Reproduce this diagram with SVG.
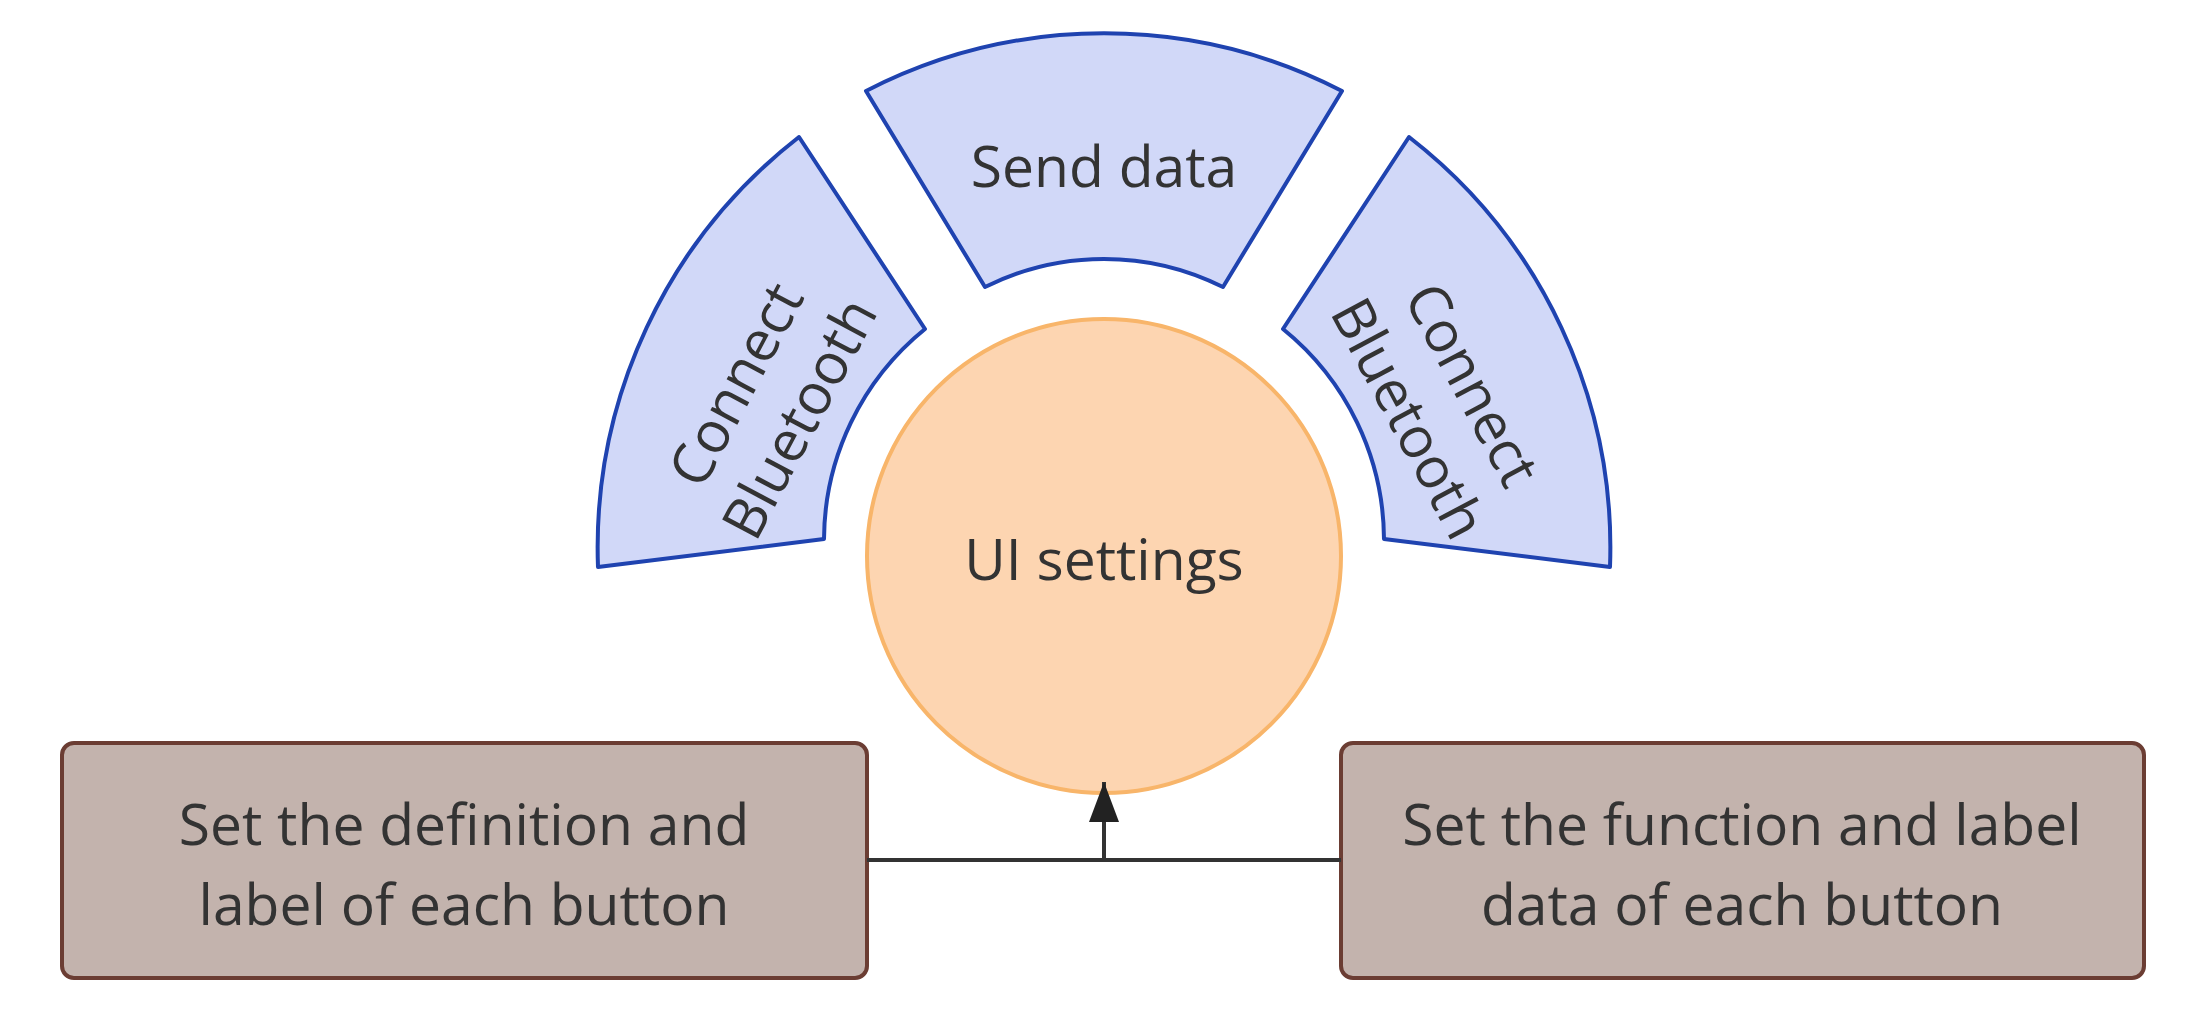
<svg xmlns="http://www.w3.org/2000/svg" width="2197" height="1026" viewBox="0 0 2197 1026">
<style>
.sec{fill:#d1d8f8;stroke:#1f43b0;stroke-width:4;stroke-linejoin:round}
.box{fill:#c3b3ad;stroke:#6b3d33;stroke-width:4}
.t{font-family:"Open Sans","Noto Sans",sans-serif;font-size:57px;fill:#333;text-anchor:middle;dominant-baseline:central}
</style>
<defs><marker id="ah" markerWidth="40" markerHeight="30" refX="40" refY="15" orient="auto" markerUnits="userSpaceOnUse" viewBox="0 0 40 30"><path d="M0,0 L40,15 L0,30 z" fill="#222"/></marker></defs>
<rect width="2197" height="1026" fill="#fff"/>
<g id="send"><path class="sec" d="M866,91 A520,520 0 0 1 1342,91 L1223,287 A266,266 0 0 0 985,287 Z"/><text class="t" x="1104" y="165">Send data</text></g>
<g id="left"><path class="sec" d="M799,137 A520,520 0 0 0 598,567 L824,539 A272,272 0 0 1 925,329 Z"/><text class="t" transform="translate(765,400) rotate(-62)"><tspan x="0" y="-35">Connect</tspan><tspan x="0" y="37">Bluetooth</tspan></text></g>
<g id="right"><path class="sec" d="M1409,137 A520,520 0 0 1 1610,567 L1384,539 A272,272 0 0 0 1283,329 Z"/><text class="t" transform="translate(1443,400) rotate(62)"><tspan x="0" y="-35">Connect</tspan><tspan x="0" y="37">Bluetooth</tspan></text></g>
<g id="ui"><circle cx="1104" cy="556" r="237" fill="#fdd5b1" stroke="#f8b56a" stroke-width="4"/><text class="t" x="1104" y="558">UI settings</text></g>
<g id="boxL"><rect class="box" x="62" y="743" width="805" height="235" rx="12"/><text class="t" x="464" y="823">Set the definition and</text><text class="t" x="464" y="903">label of each button</text></g>
<g id="boxR"><rect class="box" x="1341" y="743" width="803" height="235" rx="12"/><text class="t" x="1742" y="823">Set the function and label</text><text class="t" x="1742" y="903">data of each button</text></g>
<g id="connectors" stroke="#333" stroke-width="4" fill="none"><path d="M867,860 H1341"/><path d="M1104,860 V782" marker-end="url(#ah)"/></g>
</svg>
